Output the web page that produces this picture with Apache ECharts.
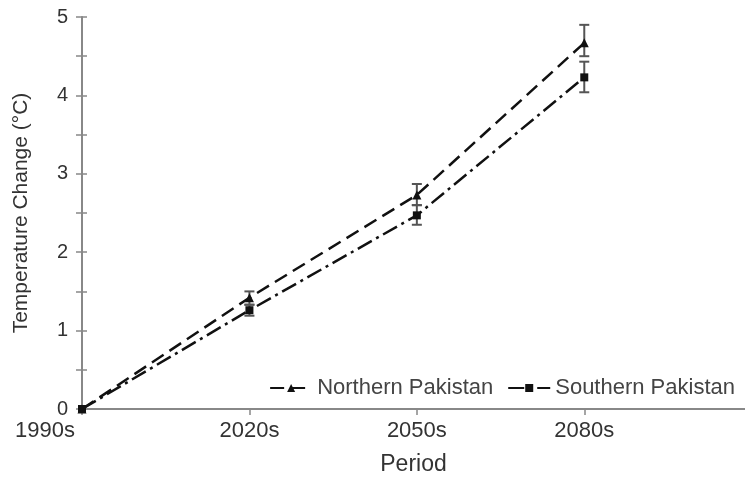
<!DOCTYPE html>
<html><head><meta charset="utf-8">
<script src="https://cdn.jsdelivr.net/npm/echarts@6/dist/echarts.min.js"></script>
<style>html,body{margin:0;padding:0;background:#fff}#c{width:745px;height:478px}</style>
</head><body><div id="c"></div>
<script>
const categories = ['1990s', '2020s', '2050s', '2080s'];
const northValues = [0, 1.42, 2.73, 4.67];
const northLow = [0, 1.33, 2.60, 4.50];
const northHigh = [0, 1.50, 2.87, 4.90];
const southValues = [0, 1.26, 2.47, 4.23];
const southLow = [0, 1.19, 2.35, 4.04];
const southHigh = [0, 1.33, 2.60, 4.43];
const yTicks = [0, 1, 2, 3, 4, 5];

const chart = echarts.init(document.getElementById('c'));
const font = 'Liberation Sans, Arial, sans-serif';
function errData(low, high) { return categories.map((c, i) => [i, low[i], high[i]]).filter(d => d[2] > d[1]); }
function errSeries(low, high) {
  return {
    type: 'custom', silent: true, z: 5,
    renderItem: function (params, api) {
      const x = api.value(0);
      const p1 = api.coord([x, api.value(1)]);
      const p2 = api.coord([x, api.value(2)]);
      const w = 5;
      const st = { stroke: '#555', lineWidth: 2 };
      return { type: 'group', children: [
        { type: 'line', shape: { x1: p1[0], y1: p1[1], x2: p2[0], y2: p2[1] }, style: st },
        { type: 'line', shape: { x1: p1[0] - w, y1: p1[1], x2: p1[0] + w, y2: p1[1] }, style: st },
        { type: 'line', shape: { x1: p2[0] - w, y1: p2[1], x2: p2[0] + w, y2: p2[1] }, style: st }
      ]};
    },
    data: errData(low, high)
  };
}
chart.setOption({
  animation: false,
  backgroundColor: '#fff',
  textStyle: { fontFamily: font },
  grid: { left: 82, top: 17, bottom: 69, right: 0, outerBoundsMode: 'none', containLabel: false },
  legend: {
    right: 5, top: 372, itemGap: 14, itemWidth: 42, itemHeight: 10,
    textStyle: { fontSize: 22, color: '#444', fontFamily: font },
    data: [{ name: 'Northern Pakistan' }, { name: 'Southern Pakistan' }]
  },
  xAxis: {
    type: 'value', min: 0, max: 3.96, interval: 1,
    name: 'Period', nameLocation: 'middle', nameGap: 44,
    nameTextStyle: { fontSize: 23, color: '#333', fontFamily: font },
    axisLine: { lineStyle: { color: '#888', width: 2 } },
    axisTick: { show: true, length: 6, lineStyle: { color: '#888', width: 1.5 } },
    axisLabel: { fontSize: 22, color: '#333', margin: 11, showMaxLabel: false, alignMinLabel: 'right',
      rich: { m: { fontSize: 22, color: '#333', fontFamily: font, padding: [0, 7, 0, 0] } },
      formatter: v => {
        if (!(Number.isInteger(v) && categories[v] !== undefined)) return '';
        return v === 0 ? '{m|' + categories[v] + '}' : categories[v];
      } },
    splitLine: { show: false }
  },
  yAxis: [{
    type: 'value', min: yTicks[0], max: yTicks[yTicks.length - 1], interval: 1,
    name: 'Temperature Change (°C)', nameLocation: 'middle', nameGap: 50, nameRotate: 90,
    nameTextStyle: { fontSize: 21, color: '#333', fontFamily: font },
    axisLine: { show: true, lineStyle: { color: '#888', width: 2 } },
    axisTick: { show: true, length: 6, lineStyle: { color: '#888', width: 1.5 } },
    minorTick: { show: true, splitNumber: 2, length: 6, lineStyle: { color: '#888', width: 1.5 } },
    axisLabel: { fontSize: 20, color: '#333', margin: 14 },
    splitLine: { show: false }
  }, {
    type: 'value', position: 'left', min: yTicks[0], max: yTicks[yTicks.length - 1], interval: 1,
    axisLine: { show: false },
    axisTick: { show: true, inside: true, length: 5, lineStyle: { color: '#888', width: 1.5 } },
    minorTick: { show: true, splitNumber: 2, length: 5, lineStyle: { color: '#888', width: 1.5 } },
    axisLabel: { show: false }, splitLine: { show: false }
  }],
  series: [
    {
      name: 'Northern Pakistan', type: 'line', z: 6,
      data: northValues.map((v, i) => [i, v]),
      symbol: 'triangle', symbolSize: 9, showAllSymbol: true,
      itemStyle: { color: '#111' },
      lineStyle: { color: '#111', width: 2.5, type: [14, 7] }
    },
    {
      name: 'Southern Pakistan', type: 'line', z: 6,
      data: southValues.map((v, i) => [i, v]),
      symbol: 'rect', symbolSize: 8,
      itemStyle: { color: '#111' },
      lineStyle: { color: '#111', width: 2.5, type: [16, 5, 3, 5] }
    },
    errSeries(northLow, northHigh),
    errSeries(southLow, southHigh)
  ]
});
</script></body></html>
